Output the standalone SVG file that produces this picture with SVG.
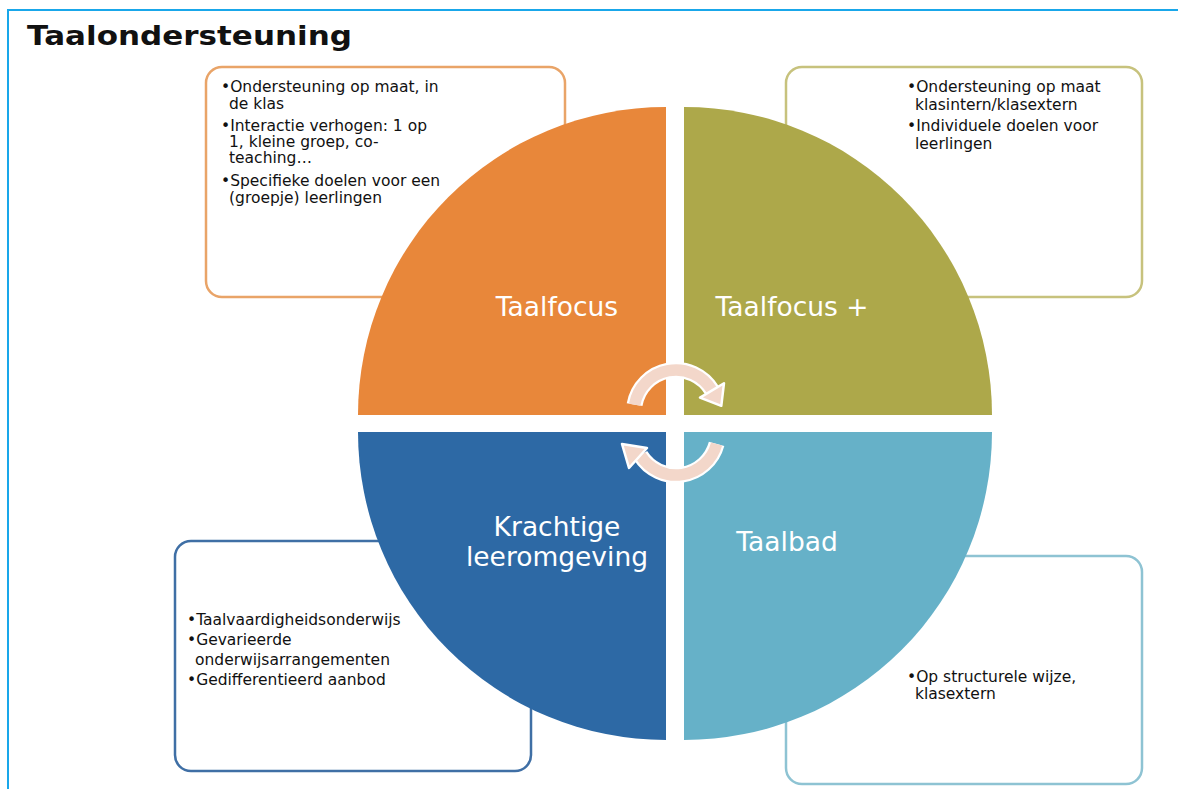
<svg xmlns="http://www.w3.org/2000/svg" width="1178" height="789" viewBox="0 0 1178 789">
<style>
.t{font-family:"DejaVu Sans","Liberation Sans",sans-serif;font-size:15.5px;fill:#111111}
.q{font-family:"DejaVu Sans","Liberation Sans",sans-serif;font-size:26.5px;fill:#ffffff;text-anchor:middle}
.box{fill:#ffffff;stroke-width:2.5}
.arc{fill:none;stroke:#ffffff;stroke-width:16}
.arcin{fill:none;stroke:#f3d7ca;stroke-width:11.5}
.head{fill:#f3d7ca;stroke:#ffffff;stroke-width:2.5;stroke-linejoin:round}
</style>
<rect x="0" y="0" width="1178" height="789" fill="#ffffff"/>
<path d="M8,789 L8,10 L1178,10" fill="none" stroke="#19a7ea" stroke-width="2"/>
<text x="27" y="45" font-family="DejaVu Sans, Liberation Sans, sans-serif" font-size="27" font-weight="bold" fill="#111" textLength="325" lengthAdjust="spacingAndGlyphs">Taalondersteuning</text>

<g id="box-taalfocus">
<rect class="box" x="206" y="67" width="359" height="230" rx="16" stroke="#e9a468"/>
<text class="t"><tspan x="221" y="92">•Ondersteuning op maat, in</tspan><tspan x="229" y="109">de klas</tspan><tspan x="221" y="131">•Interactie verhogen: 1 op</tspan><tspan x="229" y="147">1, kleine groep, co-</tspan><tspan x="229" y="163">teaching…</tspan><tspan x="221" y="186">•Specifieke doelen voor een</tspan><tspan x="229" y="203">(groepje) leerlingen</tspan></text>
</g>
<g id="box-taalfocus-plus">
<rect class="box" x="786" y="67" width="356" height="230" rx="16" stroke="#c7c27d"/>
<text class="t"><tspan x="907" y="92">•Ondersteuning op maat</tspan><tspan x="915" y="110">klasintern/klasextern</tspan><tspan x="907" y="131">•Individuele doelen voor</tspan><tspan x="915" y="149">leerlingen</tspan></text>
</g>
<g id="box-krachtige">
<rect class="box" x="175" y="541" width="356" height="230" rx="16" stroke="#3f6fa5"/>
<text class="t"><tspan x="187" y="625">•Taalvaardigheidsonderwijs</tspan><tspan x="187" y="645">•Gevarieerde</tspan><tspan x="195" y="665">onderwijsarrangementen</tspan><tspan x="187" y="685">•Gedifferentieerd aanbod</tspan></text>
</g>
<g id="box-taalbad">
<rect class="box" x="786" y="556" width="356" height="228" rx="16" stroke="#8ec3d3"/>
<text class="t"><tspan x="907" y="682">•Op structurele wijze,</tspan><tspan x="915" y="699">klasextern</tspan></text>
</g>

<g id="taalfocus">
<path d="M666,415 L358,415 A308,308 0 0 1 666,107 Z" fill="#e8873a"/>
<text class="q" x="557" y="316">Taalfocus</text>
</g>
<g id="taalfocus-plus">
<path d="M684,415 L684,107 A308,308 0 0 1 992,415 Z" fill="#ada84a"/>
<text class="q" x="792" y="316">Taalfocus +</text>
</g>
<g id="krachtige-leeromgeving">
<path d="M666,432 L666,740 A308,308 0 0 1 358,432 Z" fill="#2d69a5"/>
<text class="q" x="557" y="536">Krachtige</text>
<text class="q" x="557" y="566">leeromgeving</text>
</g>
<g id="taalbad">
<path d="M684,432 L992,432 A308,308 0 0 1 684,740 Z" fill="#66b1c8"/>
<text class="q" x="787" y="551">Taalbad</text>
</g>

<g id="connectors">
<path class="arc" d="M634.6,404.7 A42,42 0 0 1 712,390.4"/>
<path class="arcin" d="M634.6,404.7 A42,42 0 0 1 712,390.4"/>
<polygon class="head" points="724,383.2 700,397.6 721.3,405.8"/>
<path class="arc" d="M716.6,443.9 A42,42 0 0 1 640.4,455.3"/>
<path class="arcin" d="M716.6,443.9 A42,42 0 0 1 640.4,455.3"/>
<polygon class="head" points="647,448 629,468 622,444"/>
</g>
</svg>
